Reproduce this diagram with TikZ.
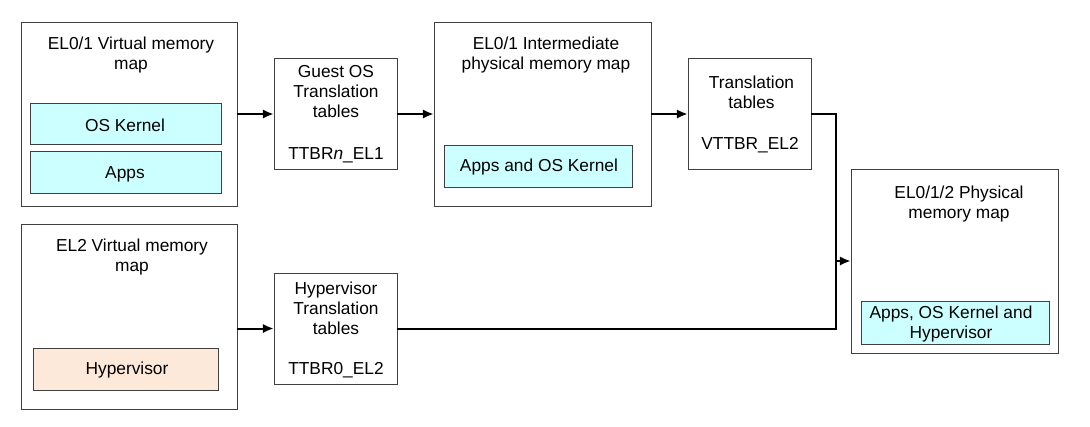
\documentclass[tikz,border=0pt]{standalone}
\usepackage{fontspec}
\setmainfont{Liberation Sans}
\usetikzlibrary{positioning,arrows.meta}
\definecolor{regcyan}{HTML}{CCFFFF}
\definecolor{regpeach}{HTML}{FCE9DA}
\begin{document}
\begin{tikzpicture}[x=0.75pt,y=-0.75pt,
	font=\fontsize{13}{15}\selectfont,
	map/.style={draw=black!75,line width=0.6pt,inner sep=0pt},
	region/.style={map,minimum height=31pt},
	txt/.style={align=center,inner sep=0pt},
	link/.style={line width=1.5pt},
	tip/.style={-{Latex[length=8pt,width=7pt]}}]
	\useasboundingbox (0,0) rectangle (1090,426);
	% memory maps
	\node[map,minimum width=162pt,minimum height=138pt] (vaEL01) at (129,114) {};
	\node[map,minimum width=162.75pt,minimum height=138pt] (ipa) at (542.5,114) {};
	\node[map,minimum width=155.25pt,minimum height=138pt] (pa) at (954.5,261) {};
	\node[map,minimum width=162pt,minimum height=138.75pt] (vaEL2) at (129,316.5) {};
	% translation tables
	\node[map,minimum width=92.25pt,minimum height=83.25pt] (gtt) at (335.5,114) {};
	\node[map,minimum width=92.25pt,minimum height=83.25pt] (s2tt) at (749.5,114) {};
	\node[map,minimum width=92.25pt,minimum height=83.25pt] (htt) at (335.5,328.5) {};
	% regions
	\node[region,fill=regcyan,minimum width=143.25pt] (kern) at (125.5,124) {};
	\node[region,fill=regcyan,minimum width=143.25pt] (apps) at (125.5,172.5) {};
	\node[region,fill=regcyan,minimum width=141pt] (ipareg) at (538,166.5) {};
	\node[region,fill=regcyan,minimum width=141pt,minimum height=32.25pt] (pareg) at (955,322.5) {};
	\node[region,fill=regpeach,minimum width=138.75pt] (hyp) at (125.5,369.5) {};
	% texts
	\node[txt] (vaEL01t) at (131,55) {EL0/1 Virtual memory\\map};
	\node[txt] (kernt) at (125,125) {OS Kernel};
	\node[txt] (appst) at (125,174) {Apps};
	\node[txt] (gttt) at (336,92) {Guest OS\\Translation\\tables};
	\node[txt] (gttr) at (336,155) {TTBR\textit{n}\_EL1};
	\node[txt] (ipat) at (546,55) {EL0/1 Intermediate\\physical memory map};
	\node[txt] (iparegt) at (539,167) {Apps and OS Kernel};
	\node[txt] (s2ttt) at (751.5,92) {Translation\\tables};
	\node[txt] (s2ttr) at (750,145) {VTTBR\_EL2};
	\node[txt] (pat) at (959,204) {EL0/1/2 Physical\\memory map};
	\node[txt] (paregt) at (951,324) {Apps, OS Kernel and\\Hypervisor};
	\node[txt] (vaEL2t) at (132,257) {EL2 Virtual memory\\map};
	\node[txt] (hypt) at (127,370) {Hypervisor};
	\node[txt] (httt) at (336,308) {Hypervisor\\Translation\\tables};
	\node[txt] (httr) at (336,370) {TTBR0\_EL2};
	% connectors
	\coordinate (join) at (836,261);
	\draw[link,tip] (vaEL01) -- (gtt);
	\draw[link,tip] (gtt) -- (ipa);
	\draw[link,tip] (ipa) -- (s2tt);
	\draw[link,tip] (htt.west -| vaEL2.east) -- (htt.west);
	\draw[link] (s2tt.east) -| (join);
	\draw[link] (htt.east) -| (join);
	\draw[link,tip] (join) -- (pa.west);
\end{tikzpicture}
\end{document}
